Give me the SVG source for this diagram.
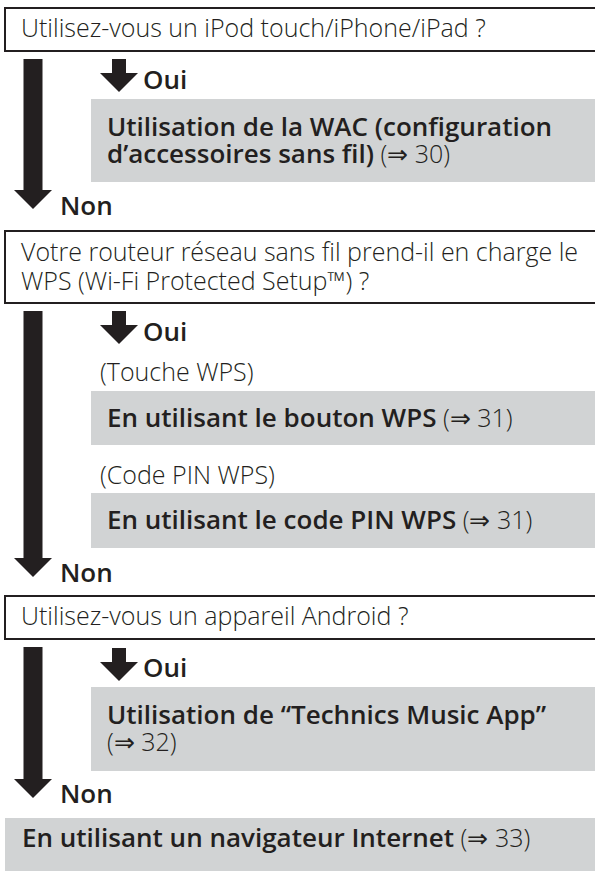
<svg xmlns="http://www.w3.org/2000/svg" width="595" height="871" viewBox="0 0 595 871">
<style>
.q{fill:#fff;stroke:#231f20;stroke-width:2}
.g{fill:#d1d3d4}
.t{font-family:"Open Sans","Liberation Sans",sans-serif;font-size:25px;font-weight:300;fill:#231f20}
.b{font-weight:600;font-size:26px}
.a{fill:#231f20}
</style>
<defs>
<polygon id="small" class="a" points="-7,0 7,0 7,14 19,14 0,33 -19,14 -7,14"/>
</defs>
<rect width="595" height="871" fill="#fff"/>

<g id="q1">
<rect class="q" x="5" y="8" width="600" height="43"/>
<text class="t" x="21" y="37">Utilisez-vous un iPod touch/iPhone/iPad ?</text>
</g>
<g id="r1">
<rect class="g" x="91" y="99" width="510" height="83"/>
<text class="t b" x="107" y="136">Utilisation de la WAC (configuration</text>
<text class="t" x="107" y="163"><tspan class="b">d’accessoires sans fil)</tspan> (⇒ 30)</text>
</g>

<g id="q2">
<rect class="q" x="5" y="231" width="600" height="72"/>
<text class="t" x="21" y="261">Votre routeur réseau sans fil prend-il en charge le</text>
<text class="t" x="21" y="290">WPS (Wi-Fi Protected Setup™) ?</text>
</g>
<g id="l1"><text class="t" x="100" y="381">(Touche WPS)</text></g>
<g id="r2">
<rect class="g" x="91" y="391" width="510" height="54"/>
<text class="t" x="107" y="427"><tspan class="b">En utilisant le bouton WPS</tspan> (⇒ 31)</text>
</g>
<g id="l2"><text class="t" x="100" y="484">(Code PIN WPS)</text></g>
<g id="r3">
<rect class="g" x="91" y="493" width="510" height="55"/>
<text class="t" x="107" y="529"><tspan class="b">En utilisant le code PIN WPS</tspan> (⇒ 31)</text>
</g>

<g id="q3">
<rect class="q" x="5" y="596" width="600" height="43"/>
<text class="t" x="21" y="625">Utilisez-vous un appareil Android ?</text>
</g>
<g id="r4">
<rect class="g" x="91" y="687" width="510" height="84"/>
<text class="t b" x="107" y="724">Utilisation de “Technics Music App”</text>
<text class="t" x="107" y="751">(⇒ 32)</text>
</g>
<g id="r5">
<rect class="g" x="5" y="818" width="600" height="60"/>
<text class="t" x="22" y="847"><tspan class="b">En utilisant un navigateur Internet</tspan> (⇒ 33)</text>
</g>

<g id="connectors">
<polygon class="a" points="23.5,59 42.5,59 42.5,190 52,190 33,209 14,190 23.5,190"/>
<polygon class="a" points="23.5,311 42.5,311 42.5,558 52,558 33,577 14,558 23.5,558"/>
<polygon class="a" points="23.5,647 42.5,647 42.5,779 52,779 33,798 14,779 23.5,779"/>
<use href="#small" x="119" y="59"/>
<use href="#small" x="119" y="311"/>
<use href="#small" x="119" y="648"/>
<text class="t b" x="143" y="89">Oui</text>
<text class="t b" x="143" y="341">Oui</text>
<text class="t b" x="143" y="677">Oui</text>
<text class="t b" x="60" y="215">Non</text>
<text class="t b" x="60" y="582">Non</text>
<text class="t b" x="60" y="803">Non</text>
</g>
</svg>
